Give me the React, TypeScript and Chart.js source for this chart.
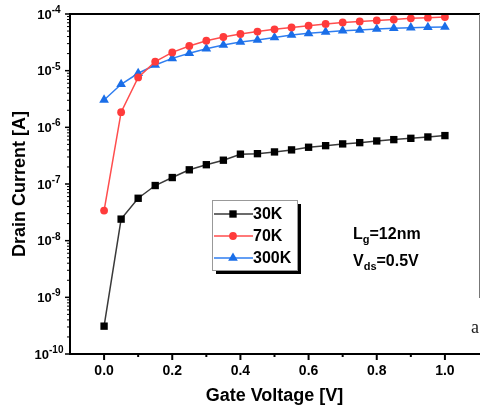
import React, { useEffect, useRef } from 'react';
import { Chart, registerables } from 'chart.js';

Chart.register(...registerables);

const gateVoltage = [0, 0.05, 0.1, 0.15, 0.2, 0.25, 0.3, 0.35, 0.4, 0.45, 0.5, 0.55, 0.6, 0.65, 0.7, 0.75, 0.8, 0.85, 0.9, 0.95, 1.0];
const current30K = [3.1e-10, 2.4e-8, 5.6e-8, 9.4e-8, 1.3e-7, 1.78e-7, 2.19e-7, 2.63e-7, 3.36e-7, 3.43e-7, 3.68e-7, 4.0e-7, 4.45e-7, 4.75e-7, 5.1e-7, 5.37e-7, 5.75e-7, 6.07e-7, 6.4e-7, 6.76e-7, 7.15e-7];
const current70K = [3.4e-8, 1.85e-6, 7.6e-6, 1.44e-5, 2.1e-5, 2.73e-5, 3.38e-5, 3.93e-5, 4.44e-5, 4.9e-5, 5.37e-5, 5.8e-5, 6.2e-5, 6.67e-5, 7.1e-5, 7.4e-5, 7.7e-5, 8.0e-5, 8.4e-5, 8.6e-5, 8.85e-5];
const current300K = [3.04e-6, 5.75e-6, 9.0e-6, 1.26e-5, 1.65e-5, 2.03e-5, 2.44e-5, 2.84e-5, 3.2e-5, 3.48e-5, 3.85e-5, 4.27e-5, 4.56e-5, 4.82e-5, 5.08e-5, 5.22e-5, 5.43e-5, 5.6e-5, 5.74e-5, 5.82e-5, 5.9e-5];
const seriesLabels = ['30K', '70K', '300K'];
const xTickValues = [0, 0.2, 0.4, 0.6, 0.8, 1.0];
const xMinorTickValues = [0.1, 0.3, 0.5, 0.7, 0.9];
const yDecadeExponents = [-10, -9, -8, -7, -6, -5, -4];
const annotationLines = [
  { main: 'L', sub: 'g', rest: '=12nm' },
  { main: 'V', sub: 'ds', rest: '=0.5V' },
];

const FONT = '"Liberation Sans", Arial, sans-serif';

const decorPlugin = {
  id: 'decor',
  afterDraw(chart: any) {
    const ctx = chart.ctx as CanvasRenderingContext2D;
    const xs = chart.scales.x;
    const ys = chart.scales.y;
    const area = chart.chartArea;
    ctx.save();
    ctx.strokeStyle = '#000';
    ctx.fillStyle = '#000';

    // top border
    ctx.lineWidth = 2;
    ctx.beginPath();
    ctx.moveTo(area.left - 1, area.top);
    ctx.lineTo(chart.width, area.top);
    ctx.stroke();
    // right border (thin)
    ctx.lineWidth = 1;
    ctx.strokeStyle = '#777';
    ctx.beginPath();
    ctx.moveTo(area.right + 0.5, area.top);
    ctx.lineTo(area.right + 0.5, 298);
    ctx.stroke();
    ctx.strokeStyle = '#000';

    // y ticks
    ctx.lineWidth = 1.5;
    yDecadeExponents.forEach((e) => {
      const py = ys.getPixelForValue(Math.pow(10, e));
      ctx.beginPath();
      ctx.moveTo(area.left, py);
      ctx.lineTo(area.left - 5, py);
      ctx.stroke();
      if (e < -4) {
        for (let k = 2; k <= 9; k++) {
          const my = ys.getPixelForValue(k * Math.pow(10, e));
          ctx.lineWidth = 1;
          ctx.beginPath();
          ctx.moveTo(area.left, my);
          ctx.lineTo(area.left - 3, my);
          ctx.stroke();
          ctx.lineWidth = 1.5;
        }
      }
      // label
      const base = '10';
      const sup = '-' + Math.abs(e);
      ctx.font = `bold 13px ${FONT}`;
      const bw = ctx.measureText(base).width;
      ctx.font = `bold 10px ${FONT}`;
      const sw = ctx.measureText(sup).width;
      const cx = 49;
      const startX = cx - (bw + sw) / 2;
      ctx.font = `bold 13px ${FONT}`;
      ctx.textAlign = 'left';
      ctx.textBaseline = 'middle';
      ctx.fillText(base, startX, py + 1);
      ctx.font = `bold 10px ${FONT}`;
      ctx.textBaseline = 'alphabetic';
      ctx.fillText(sup, startX + bw, py - 1);
    });

    // x ticks
    ctx.lineWidth = 2;
    xTickValues.forEach((v) => {
      const px = xs.getPixelForValue(v);
      ctx.beginPath();
      ctx.moveTo(px, area.bottom);
      ctx.lineTo(px, area.bottom + 6);
      ctx.stroke();
    });
    xMinorTickValues.forEach((v) => {
      const px = xs.getPixelForValue(v);
      ctx.beginPath();
      ctx.moveTo(px, area.bottom);
      ctx.lineTo(px, area.bottom + 3);
      ctx.stroke();
    });

    // legend
    const lx = 212, ly = 200, lw = 85, lh = 70;
    ctx.fillStyle = '#000';
    ctx.fillRect(lx + 4, ly + 4, lw, lh);
    ctx.fillStyle = '#fff';
    ctx.fillRect(lx, ly, lw, lh);
    ctx.strokeStyle = '#999';
    ctx.lineWidth = 1;
    ctx.strokeRect(lx + 0.5, ly + 0.5, lw, lh);
    const rowY = [214, 236, 258];
    chart.data.datasets.forEach((ds: any, i: number) => {
      const y = rowY[i];
      ctx.strokeStyle = ds.borderColor;
      ctx.lineWidth = 1.5;
      ctx.beginPath();
      ctx.moveTo(214, y);
      ctx.lineTo(253, y);
      ctx.stroke();
      ctx.fillStyle = ds.pointBackgroundColor;
      const r = ds.pointRadius;
      ctx.beginPath();
      if (ds.pointStyle === 'rect') {
        const s = Math.SQRT1_2 * r;
        ctx.rect(233 - s, y - s, 2 * s, 2 * s);
      } else if (ds.pointStyle === 'triangle') {
        ctx.moveTo(233, y - r);
        ctx.lineTo(233 + r * 0.866, y + r * 0.5);
        ctx.lineTo(233 - r * 0.866, y + r * 0.5);
        ctx.closePath();
      } else {
        ctx.arc(233, y, r, 0, Math.PI * 2);
      }
      ctx.fill();
      ctx.fillStyle = '#000';
      ctx.font = `bold 16px ${FONT}`;
      ctx.textAlign = 'left';
      ctx.textBaseline = 'middle';
      ctx.fillText(seriesLabels[i], 253, y + 1);
    });

    // annotation
    const baseY = [239, 266];
    annotationLines.forEach((ln, i) => {
      let x = 353;
      const by = baseY[i];
      ctx.fillStyle = '#000';
      ctx.textAlign = 'left';
      ctx.textBaseline = 'alphabetic';
      ctx.font = `bold 16px ${FONT}`;
      ctx.fillText(ln.main, x, by);
      x += ctx.measureText(ln.main).width;
      ctx.font = `bold 11px ${FONT}`;
      ctx.fillText(ln.sub, x, by + 4);
      x += ctx.measureText(ln.sub).width;
      ctx.font = `bold 16px ${FONT}`;
      ctx.fillText(ln.rest, x, by);
    });

    // stray glyph from neighbouring panel
    ctx.font = `18px "Liberation Serif", serif`;
    ctx.fillStyle = '#222';
    ctx.textAlign = 'left';
    ctx.textBaseline = 'alphabetic';
    ctx.fillText('a', 471, 333);

    ctx.restore();
  },
};

export default function App() {
  const ref = useRef<HTMLCanvasElement | null>(null);
  useEffect(() => {
    if (!ref.current) return;
    const mk = (vals: number[]) => gateVoltage.map((x, i) => ({ x, y: vals[i] }));
    const chart = new Chart(ref.current, {
      type: 'line',
      data: {
        datasets: [
          {
            label: seriesLabels[0],
            data: mk(current30K),
            borderColor: '#3a3a3a',
            backgroundColor: '#000',
            pointBackgroundColor: '#000',
            pointBorderColor: '#000',
            pointStyle: 'rect',
            pointRadius: 5.2,
            pointBorderWidth: 0,
            borderWidth: 1.5,
            tension: 0,
          },
          {
            label: seriesLabels[1],
            data: mk(current70K),
            borderColor: '#ff4d4d',
            backgroundColor: '#ff3b3b',
            pointBackgroundColor: '#ff3b3b',
            pointBorderColor: '#ff3b3b',
            pointStyle: 'circle',
            pointRadius: 3.9,
            pointBorderWidth: 0,
            borderWidth: 1.5,
            tension: 0,
          },
          {
            label: seriesLabels[2],
            data: mk(current300K),
            borderColor: '#2f7ef0',
            backgroundColor: '#1a6ee8',
            pointBackgroundColor: '#1a6ee8',
            pointBorderColor: '#1a6ee8',
            pointStyle: 'triangle',
            pointRadius: 5.6,
            pointBorderWidth: 0,
            borderWidth: 1.5,
            tension: 0,
          },
        ] as any,
      },
      options: {
        animation: false,
        responsive: false,
        devicePixelRatio: 1,
        layout: { autoPadding: false, padding: { top: 14, right: 1, left: 0, bottom: 0 } },
        plugins: { legend: { display: false }, tooltip: { enabled: false } },
        scales: {
          x: {
            type: 'linear',
            min: -0.1,
            max: 1.1,
            afterBuildTicks: (s: any) => {
              s.ticks = xTickValues.map((v) => ({ value: v }));
            },
            afterFit: (s: any) => {
              s.height = 53;
              s.paddingLeft = 0;
              s.paddingRight = 0;
            },
            ticks: {
              callback: (v: any) => Number(v).toFixed(1),
              font: { family: FONT, size: 14, weight: 'bold' },
              color: '#000',
              padding: 9,
              maxRotation: 0,
              autoSkip: false,
            },
            grid: { display: false, drawTicks: false },
            border: { display: true, color: '#000', width: 2 },
            title: {
              display: true,
              text: 'Gate Voltage [V]',
              font: { family: FONT, size: 18, weight: 'bold' },
              color: '#000',
              padding: { top: 0, bottom: 0 },
            },
          },
          y: {
            type: 'logarithmic',
            min: 1e-10,
            max: 1e-4,
            afterFit: (s: any) => {
              s.width = 70;
              s.paddingTop = 0;
              s.paddingBottom = 0;
            },
            ticks: { display: false },
            grid: { display: false, drawTicks: false },
            border: { display: true, color: '#000', width: 2 },
            title: {
              display: true,
              text: 'Drain Current [A]',
              font: { family: FONT, size: 18, weight: 'bold' },
              color: '#000',
              padding: { top: 9, bottom: 0 },
            },
          },
        },
      } as any,
      plugins: [decorPlugin],
    });
    return () => chart.destroy();
  }, []);
  return (
    <div style={{ position: 'absolute', left: 0, top: 0, width: 480, height: 407, background: '#fff' }}>
      <canvas ref={ref} width={480} height={407} style={{ display: 'block' }} />
    </div>
  );
}
